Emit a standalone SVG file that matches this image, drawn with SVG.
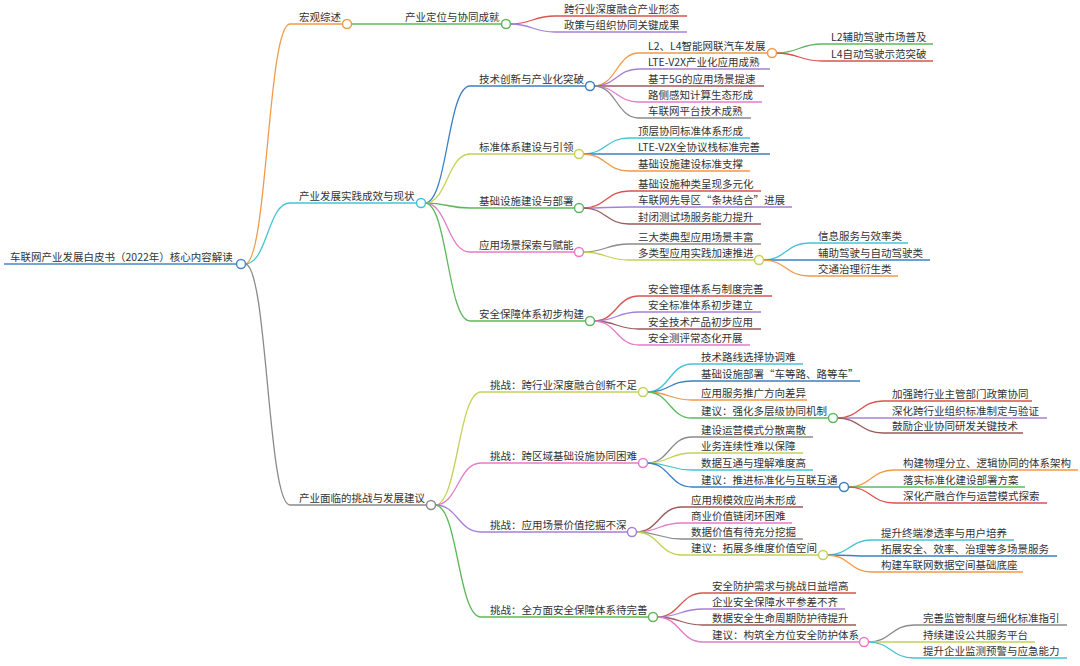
<svg xmlns="http://www.w3.org/2000/svg" width="1080" height="666" viewBox="0 0 1080 666">
<style>
.t{font-family:"Noto Sans CJK SC","Noto Sans",sans-serif;font-size:10.5px;fill:#333}
path{fill:none;stroke-width:1.3}
circle{fill:#fff;stroke-width:1.5}
.or{stroke:#F19A48}.gr{stroke:#5CB85C}.rd{stroke:#D9534F}.pu{stroke:#A77FD8}.bl{stroke:#3D7FC4}
.br{stroke:#9B5B5B}.pk{stroke:#E57BC9}.gy{stroke:#8A8A8A}.cy{stroke:#45C2D6}.yg{stroke:#C5D157}.rb{stroke:#4A86C8}
</style>
<rect width="1080" height="666" fill="#fff"/>
<g id="connectors">
<path class="rb" d="M4 264 H237"/>
<path class="or" d="M245 264 C267.5 264 267.5 24 290 24 H343"/>
<path class="cy" d="M245 264 C267.5 264 267.5 203 290 203 H417"/>
<path class="gy" d="M245 264 C267.5 264 267.5 505 290 505 H427"/>
<path class="gr" d="M351 24 H502"/>
<path class="rd" d="M510 24 C532.5 24 532.5 16 555 16 H687"/>
<path class="pu" d="M510 24 C532.5 24 532.5 32 555 32 H687"/>
<path class="bl" d="M425 203 C447.5 203 447.5 86 470 86 H586"/>
<path class="yg" d="M425 203 C447.5 203 447.5 154 470 154 H575"/>
<path class="gr" d="M425 203 C447.5 203 447.5 208 470 208 H575"/>
<path class="pk" d="M425 203 C447.5 203 447.5 252 470 252 H575"/>
<path class="gr" d="M425 203 C447.5 203 447.5 321 470 321 H586"/>
<path class="or" d="M594 86 C616.5 86 616.5 53 639 53 H768"/>
<path class="pu" d="M594 86 C616.5 86 616.5 69 639 69 H770"/>
<path class="br" d="M594 86 C616.5 86 616.5 86 639 86 H764"/>
<path class="pk" d="M594 86 C616.5 86 616.5 102 639 102 H762"/>
<path class="gy" d="M594 86 C616.5 86 616.5 118 639 118 H751"/>
<path class="gr" d="M776 53 C799 53 799 44 822 44 H933"/>
<path class="rd" d="M776 53 C799 53 799 61 822 61 H933"/>
<path class="cy" d="M583 154 C606 154 606 138 629 138 H750"/>
<path class="bl" d="M583 154 C606 154 606 154 629 154 H770"/>
<path class="or" d="M583 154 C606 154 606 171 629 171 H750"/>
<path class="rd" d="M583 208 C606 208 606 191 629 191 H761"/>
<path class="pu" d="M583 208 C606 208 606 207 629 207 H792"/>
<path class="br" d="M583 208 C606 208 606 224 629 224 H761"/>
<path class="gy" d="M583 252 C606 252 606 244 629 244 H761"/>
<path class="yg" d="M583 252 C606 252 606 260 629 260 H755"/>
<path class="cy" d="M763 260 C786 260 786 243 809 243 H908"/>
<path class="bl" d="M763 260 C786 260 786 260 809 260 H930"/>
<path class="or" d="M763 260 C786 260 786 276 809 276 H898"/>
<path class="rd" d="M594 321 C616.5 321 616.5 296 639 296 H772"/>
<path class="pu" d="M594 321 C616.5 321 616.5 312 639 312 H761"/>
<path class="br" d="M594 321 C616.5 321 616.5 329 639 329 H761"/>
<path class="pk" d="M594 321 C616.5 321 616.5 345 639 345 H750"/>
<path class="yg" d="M435 505 C458 505 458 392 481 392 H639"/>
<path class="pk" d="M435 505 C458 505 458 463 481 463 H639"/>
<path class="pu" d="M435 505 C458 505 458 532 481 532 H628"/>
<path class="gr" d="M435 505 C458 505 458 617 481 617 H649"/>
<path class="cy" d="M647 392 C669.5 392 669.5 364 692 364 H803"/>
<path class="bl" d="M647 392 C669.5 392 669.5 381 692 381 H860"/>
<path class="or" d="M647 392 C669.5 392 669.5 400 692 400 H807"/>
<path class="gr" d="M647 392 C669.5 392 669.5 418 692 418 H829"/>
<path class="rd" d="M837 418 C860 418 860 401 883 401 H1032"/>
<path class="pu" d="M837 418 C860 418 860 418 883 418 H1047"/>
<path class="br" d="M837 418 C860 418 860 433 883 433 H1023"/>
<path class="gy" d="M647 463 C669.5 463 669.5 437 692 437 H813"/>
<path class="yg" d="M647 463 C669.5 463 669.5 453 692 453 H803"/>
<path class="cy" d="M647 463 C669.5 463 669.5 470 692 470 H813"/>
<path class="bl" d="M647 463 C669.5 463 669.5 487 692 487 H840"/>
<path class="or" d="M848 487 C871 487 871 470 894 470 H1078"/>
<path class="gr" d="M848 487 C871 487 871 487 894 487 H1025"/>
<path class="rd" d="M848 487 C871 487 871 503 894 503 H1047"/>
<path class="br" d="M636 532 C659 532 659 507 682 507 H803"/>
<path class="pk" d="M636 532 C659 532 659 523 682 523 H792"/>
<path class="gy" d="M636 532 C659 532 659 539 682 539 H803"/>
<path class="yg" d="M636 532 C659 532 659 555 682 555 H819"/>
<path class="cy" d="M827 555 C849.5 555 849.5 540 872 540 H1014"/>
<path class="bl" d="M827 555 C849.5 555 849.5 556 872 556 H1057"/>
<path class="or" d="M827 555 C849.5 555 849.5 572 872 572 H1023"/>
<path class="rd" d="M657 617 C680 617 680 593 703 593 H856"/>
<path class="pu" d="M657 617 C680 617 680 609 703 609 H845"/>
<path class="br" d="M657 617 C680 617 680 625 703 625 H856"/>
<path class="pk" d="M657 617 C680 617 680 642 703 642 H860"/>
<path class="gy" d="M868 642 C891 642 891 625 914 625 H1067"/>
<path class="yg" d="M868 642 C891 642 891 642 914 642 H1035"/>
<path class="cy" d="M868 642 C891 642 891 658 914 658 H1067"/>
</g>
<g id="root"><text class="t" x="10" y="261">车联网产业发展白皮书（2022年）核心内容解读</text><circle class="rb" cx="241" cy="264" r="4.5"/></g>
<g id="n-a"><text class="t" x="299" y="21">宏观综述</text><circle class="or" cx="347" cy="24" r="4.5"/></g>
<g id="n-a1"><text class="t" x="405" y="21">产业定位与协同成就</text><circle class="gr" cx="506" cy="24" r="4.5"/></g>
<g id="n-a1a"><text class="t" x="564" y="13">跨行业深度融合产业形态</text></g>
<g id="n-a1b"><text class="t" x="564" y="29">政策与组织协同关键成果</text></g>
<g id="n-b"><text class="t" x="299" y="200">产业发展实践成效与现状</text><circle class="cy" cx="421" cy="203" r="4.5"/></g>
<g id="n-b1"><text class="t" x="479" y="83">技术创新与产业化突破</text><circle class="bl" cx="590" cy="86" r="4.5"/></g>
<g id="n-b1a"><text class="t" x="648" y="50">L2、L4智能网联汽车发展</text><circle class="or" cx="772" cy="53" r="4.5"/></g>
<g id="n-b1a1"><text class="t" x="831" y="41">L2辅助驾驶市场普及</text></g>
<g id="n-b1a2"><text class="t" x="831" y="58">L4自动驾驶示范突破</text></g>
<g id="n-b1b"><text class="t" x="648" y="66">LTE-V2X产业化应用成熟</text></g>
<g id="n-b1c"><text class="t" x="648" y="83">基于5G的应用场景提速</text></g>
<g id="n-b1d"><text class="t" x="648" y="99">路侧感知计算生态形成</text></g>
<g id="n-b1e"><text class="t" x="648" y="115">车联网平台技术成熟</text></g>
<g id="n-b2"><text class="t" x="479" y="151">标准体系建设与引领</text><circle class="yg" cx="579" cy="154" r="4.5"/></g>
<g id="n-b2a"><text class="t" x="638" y="135">顶层协同标准体系形成</text></g>
<g id="n-b2b"><text class="t" x="638" y="151">LTE-V2X全协议栈标准完善</text></g>
<g id="n-b2c"><text class="t" x="638" y="168">基础设施建设标准支撑</text></g>
<g id="n-b3"><text class="t" x="479" y="205">基础设施建设与部署</text><circle class="gr" cx="579" cy="208" r="4.5"/></g>
<g id="n-b3a"><text class="t" x="638" y="188">基础设施种类呈现多元化</text></g>
<g id="n-b3b"><text class="t" x="638" y="204">车联网先导区“条块结合”进展</text></g>
<g id="n-b3c"><text class="t" x="638" y="221">封闭测试场服务能力提升</text></g>
<g id="n-b4"><text class="t" x="479" y="249">应用场景探索与赋能</text><circle class="pk" cx="579" cy="252" r="4.5"/></g>
<g id="n-b4a"><text class="t" x="638" y="241">三大类典型应用场景丰富</text></g>
<g id="n-b4b"><text class="t" x="638" y="257">多类型应用实践加速推进</text><circle class="yg" cx="759" cy="260" r="4.5"/></g>
<g id="n-b4b1"><text class="t" x="818" y="240">信息服务与效率类</text></g>
<g id="n-b4b2"><text class="t" x="818" y="257">辅助驾驶与自动驾驶类</text></g>
<g id="n-b4b3"><text class="t" x="818" y="273">交通治理衍生类</text></g>
<g id="n-b5"><text class="t" x="479" y="318">安全保障体系初步构建</text><circle class="gr" cx="590" cy="321" r="4.5"/></g>
<g id="n-b5a"><text class="t" x="648" y="293">安全管理体系与制度完善</text></g>
<g id="n-b5b"><text class="t" x="648" y="309">安全标准体系初步建立</text></g>
<g id="n-b5c"><text class="t" x="648" y="326">安全技术产品初步应用</text></g>
<g id="n-b5d"><text class="t" x="648" y="342">安全测评常态化开展</text></g>
<g id="n-c"><text class="t" x="299" y="502">产业面临的挑战与发展建议</text><circle class="gy" cx="431" cy="505" r="4.5"/></g>
<g id="n-c1"><text class="t" x="490" y="389">挑战：跨行业深度融合创新不足</text><circle class="yg" cx="643" cy="392" r="4.5"/></g>
<g id="n-c1a"><text class="t" x="701" y="361">技术路线选择协调难</text></g>
<g id="n-c1b"><text class="t" x="701" y="378">基础设施部署“车等路、路等车”</text></g>
<g id="n-c1c"><text class="t" x="701" y="397">应用服务推广方向差异</text></g>
<g id="n-c1d"><text class="t" x="701" y="415">建议：强化多层级协同机制</text><circle class="gr" cx="833" cy="418" r="4.5"/></g>
<g id="n-c1d1"><text class="t" x="892" y="398">加强跨行业主管部门政策协同</text></g>
<g id="n-c1d2"><text class="t" x="892" y="415">深化跨行业组织标准制定与验证</text></g>
<g id="n-c1d3"><text class="t" x="892" y="430">鼓励企业协同研发关键技术</text></g>
<g id="n-c2"><text class="t" x="490" y="460">挑战：跨区域基础设施协同困难</text><circle class="pk" cx="643" cy="463" r="4.5"/></g>
<g id="n-c2a"><text class="t" x="701" y="434">建设运营模式分散离散</text></g>
<g id="n-c2b"><text class="t" x="701" y="450">业务连续性难以保障</text></g>
<g id="n-c2c"><text class="t" x="701" y="467">数据互通与理解难度高</text></g>
<g id="n-c2d"><text class="t" x="701" y="484">建议：推进标准化与互联互通</text><circle class="bl" cx="844" cy="487" r="4.5"/></g>
<g id="n-c2d1"><text class="t" x="903" y="467">构建物理分立、逻辑协同的体系架构</text></g>
<g id="n-c2d2"><text class="t" x="903" y="484">落实标准化建设部署方案</text></g>
<g id="n-c2d3"><text class="t" x="903" y="500">深化产融合作与运营模式探索</text></g>
<g id="n-c3"><text class="t" x="490" y="529">挑战：应用场景价值挖掘不深</text><circle class="pu" cx="632" cy="532" r="4.5"/></g>
<g id="n-c3a"><text class="t" x="691" y="504">应用规模效应尚未形成</text></g>
<g id="n-c3b"><text class="t" x="691" y="520">商业价值链闭环困难</text></g>
<g id="n-c3c"><text class="t" x="691" y="536">数据价值有待充分挖掘</text></g>
<g id="n-c3d"><text class="t" x="691" y="552">建议：拓展多维度价值空间</text><circle class="yg" cx="823" cy="555" r="4.5"/></g>
<g id="n-c3d1"><text class="t" x="881" y="537">提升终端渗透率与用户培养</text></g>
<g id="n-c3d2"><text class="t" x="881" y="553">拓展安全、效率、治理等多场景服务</text></g>
<g id="n-c3d3"><text class="t" x="881" y="569">构建车联网数据空间基础底座</text></g>
<g id="n-c4"><text class="t" x="490" y="614">挑战：全方面安全保障体系待完善</text><circle class="gr" cx="653" cy="617" r="4.5"/></g>
<g id="n-c4a"><text class="t" x="712" y="590">安全防护需求与挑战日益增高</text></g>
<g id="n-c4b"><text class="t" x="712" y="606">企业安全保障水平参差不齐</text></g>
<g id="n-c4c"><text class="t" x="712" y="622">数据安全生命周期防护待提升</text></g>
<g id="n-c4d"><text class="t" x="712" y="639">建议：构筑全方位安全防护体系</text><circle class="pk" cx="864" cy="642" r="4.5"/></g>
<g id="n-c4d1"><text class="t" x="923" y="622">完善监管制度与细化标准指引</text></g>
<g id="n-c4d2"><text class="t" x="923" y="639">持续建设公共服务平台</text></g>
<g id="n-c4d3"><text class="t" x="923" y="655">提升企业监测预警与应急能力</text></g>
</svg>
